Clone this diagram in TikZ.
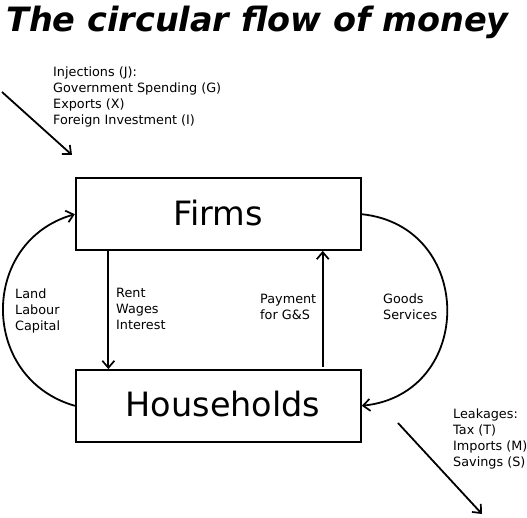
\documentclass[tikz,border=0pt]{standalone}
\usepackage{fontspec}
\setmainfont{DejaVu Sans}[
  BoldFont={DejaVu Sans Bold},
  ItalicFont={DejaVu Sans Oblique},
  BoldItalicFont={DejaVu Sans Bold Oblique}]
\usepackage{tikz}
\usetikzlibrary{arrows.meta}
\tikzset{
  % Boxes
  sectorbox/.style = {draw, line width=1.9pt, minimum width=285pt,
                      minimum height=71.5pt, inner sep=0pt,
                      text height=24pt, text depth=2pt,
                      font=\fontsize{33.5}{38}\selectfont},
  % Arrows
  flowline/.style  = {line width=1.8pt,
                      -{Straight Barb[length=7pt,width=12pt,line width=1.7pt]}},
  % Labels (anchored at the last line's baseline)
  lab/.style       = {font=\fontsize{12.8}{16}\selectfont, align=left,
                      inner sep=0pt, anchor=base west},
  titlelab/.style  = {font=\fontsize{33.5}{40}\selectfont\bfseries\itshape,
                      inner sep=0pt, anchor=base west},
}
\begin{document}
\begin{tikzpicture}[x=1pt,y=1pt]
  \useasboundingbox (0,0) rectangle (527,517);
  % Title
  \node[titlelab] (title) at (6,485) {The circular flow of money};
  % Sectors
  \node[sectorbox] (firms) at (218.3,302.8) {Firms};
  \node[sectorbox] (hh) at (218.3,111.2) {\hspace*{9.4pt}Households};
  % Factors and goods
  \draw[flowline] (hh.west) to[out=164,in=196,looseness=1.33] (firms.west);
  \draw[flowline] (firms.east) to[out=-6,in=6,looseness=1.53] (hh.east);
  % Money flows
  \draw[flowline] ([xshift=33.5pt]firms.south west) -- ([xshift=33.5pt]hh.north west);
  \draw[flowline] ([xshift=-39pt,yshift=2pt]hh.north east) -- ([xshift=-39pt]firms.south east);
  % Injections and leakages
  \coordinate (injA) at (2,425);
  \coordinate (injB) at (72,362);
  \draw[flowline] (injA) -- (injB);
  \coordinate (leakA) at (398,94);
  \coordinate (leakB) at (482,3);
  \draw[flowline] (leakA) -- (leakB);
  % Labels
  \node[lab] (inj) at (53,392) {Injections (J):\\Government Spending (G)\\Exports (X)\\Foreign Investment (I)};
  \node[lab] (factors) at (15,186.5) {Land\\Labour\\Capital};
  \node[lab] (income) at (116,187.5) {Rent\\Wages\\Interest};
  \node[lab] (pay) at (260,197.5) {Payment\\for G\&S};
  \node[lab] (goods) at (383,197.5) {Goods\\Services};
  \node[lab] (leak) at (453,51) {Leakages:\\Tax (T)\\Imports (M)\\Savings (S)};
\end{tikzpicture}
\end{document}
